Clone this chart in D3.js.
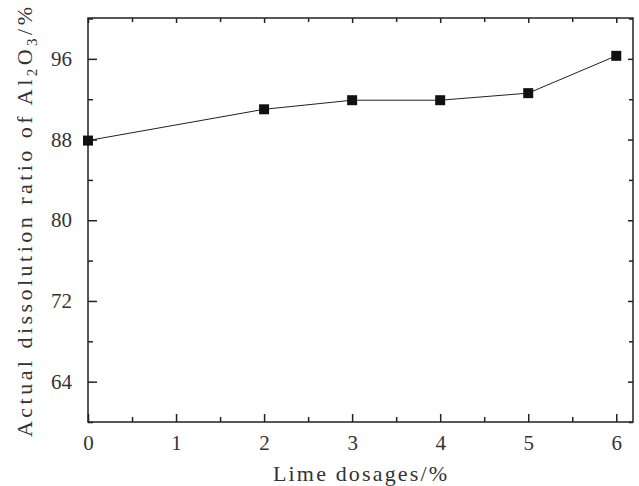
<!DOCTYPE html>
<html>
<head>
<meta charset="utf-8">
<script src="https://cdnjs.cloudflare.com/ajax/libs/d3/7.8.5/d3.min.js"></script>
<style>
  body { margin: 0; background: #fff; }
</style>
</head>
<body>
<div class="chart"></div>
<script>
const dosages = [0, 2, 3, 4, 5, 6];
const ratios = [87.9, 91.0, 91.9, 91.9, 92.6, 96.3];
const xTicks = [0, 1, 2, 3, 4, 5, 6];
const yTicks = [64, 72, 80, 88, 96];

const FONT = "'Liberation Serif', serif";

const margin = {top: 18, left: 88, right: 6, bottom: 64};
const width = 639 - margin.left - margin.right;
const height = 486 - margin.top - margin.bottom;

const svg = d3.select(".chart").append("svg")
    .attr("width", 639)
    .attr("height", 486)
  .append("g")
    .attr("transform", `translate(${margin.left},${margin.top})`);

const xScale = d3.scaleLinear().domain([0, 6.19]).range([0, width]);
const yScale = d3.scaleLinear().domain([60, 100.05]).range([height, 0]);

const minorX = d3.range(0.5, 6.2, 1);
const minorY = d3.range(60, 101, 8);

// frame
svg.append("rect")
    .attr("width", width).attr("height", height)
    .attr("fill", "none").attr("stroke", "#222").attr("stroke-width", 1.5);

function axisStyle(g) {
  g.attr("font-family", FONT);
  g.select(".domain").remove();
  g.selectAll(".tick line").attr("stroke", "#222").attr("stroke-width", 1.5);
  g.selectAll(".tick text")
    .attr("font-family", FONT)
    .attr("font-size", 21)
    .attr("fill", "#333");
}

// bottom
svg.append("g").attr("transform", `translate(0,${height})`)
    .call(d3.axisBottom(xScale).tickValues(xTicks).tickSize(-8).tickPadding(13).tickFormat(d3.format("d")))
    .call(axisStyle);
svg.append("g").attr("transform", `translate(0,${height})`)
    .call(d3.axisBottom(xScale).tickValues(minorX).tickSize(-5).tickFormat(""))
    .call(axisStyle);
// top
svg.append("g")
    .call(d3.axisTop(xScale).tickValues(xTicks).tickSize(-5).tickFormat(""))
    .call(axisStyle);
svg.append("g")
    .call(d3.axisTop(xScale).tickValues(minorX).tickSize(-4).tickFormat(""))
    .call(axisStyle);
// left
svg.append("g")
    .call(d3.axisLeft(yScale).tickValues(yTicks).tickSize(-9).tickPadding(16))
    .call(axisStyle);
svg.append("g")
    .call(d3.axisLeft(yScale).tickValues(minorY).tickSize(-5).tickFormat(""))
    .call(axisStyle);
// right
svg.append("g").attr("transform", `translate(${width},0)`)
    .call(d3.axisRight(yScale).tickValues(yTicks).tickSize(-5).tickFormat(""))
    .call(axisStyle);
svg.append("g").attr("transform", `translate(${width},0)`)
    .call(d3.axisRight(yScale).tickValues(minorY).tickSize(-4).tickFormat(""))
    .call(axisStyle);

// line
const pts = dosages.map((d, i) => ({x: d, y: ratios[i]}));
svg.append("path")
    .datum(pts)
    .attr("fill", "none")
    .attr("stroke", "#222")
    .attr("stroke-width", 1)
    .attr("d", d3.line().x(d => xScale(d.x)).y(d => yScale(d.y)));

svg.selectAll(".pt")
    .data(pts)
    .enter().append("rect")
    .attr("class", "pt")
    .attr("x", d => xScale(d.x) - 5)
    .attr("y", d => yScale(d.y) - 5)
    .attr("width", 10).attr("height", 10)
    .attr("fill", "#111");

// axis titles
svg.append("text")
    .attr("x", 273 - margin.left)
    .attr("y", 481 - margin.top)
    .attr("font-family", FONT)
    .attr("font-size", 22)
    .attr("fill", "#333")
    .attr("textLength", 174)
    .attr("lengthAdjust", "spacing")
    .text("Lime dosages/%");

const yt = svg.append("text")
    .attr("transform", `translate(${32 - margin.left},${437 - margin.top}) rotate(-90)`)
    .attr("font-family", FONT)
    .attr("font-size", 22)
    .attr("fill", "#333")
    .attr("textLength", 430)
    .attr("lengthAdjust", "spacing");
yt.append("tspan").text("Actual dissolution ratio of Al");
yt.append("tspan").attr("font-size", 15).attr("dy", 5).text("2");
yt.append("tspan").attr("dy", -5).text("O");
yt.append("tspan").attr("font-size", 15).attr("dy", 5).text("3");
yt.append("tspan").attr("dy", -5).text("/%");
</script>
</body>
</html>
